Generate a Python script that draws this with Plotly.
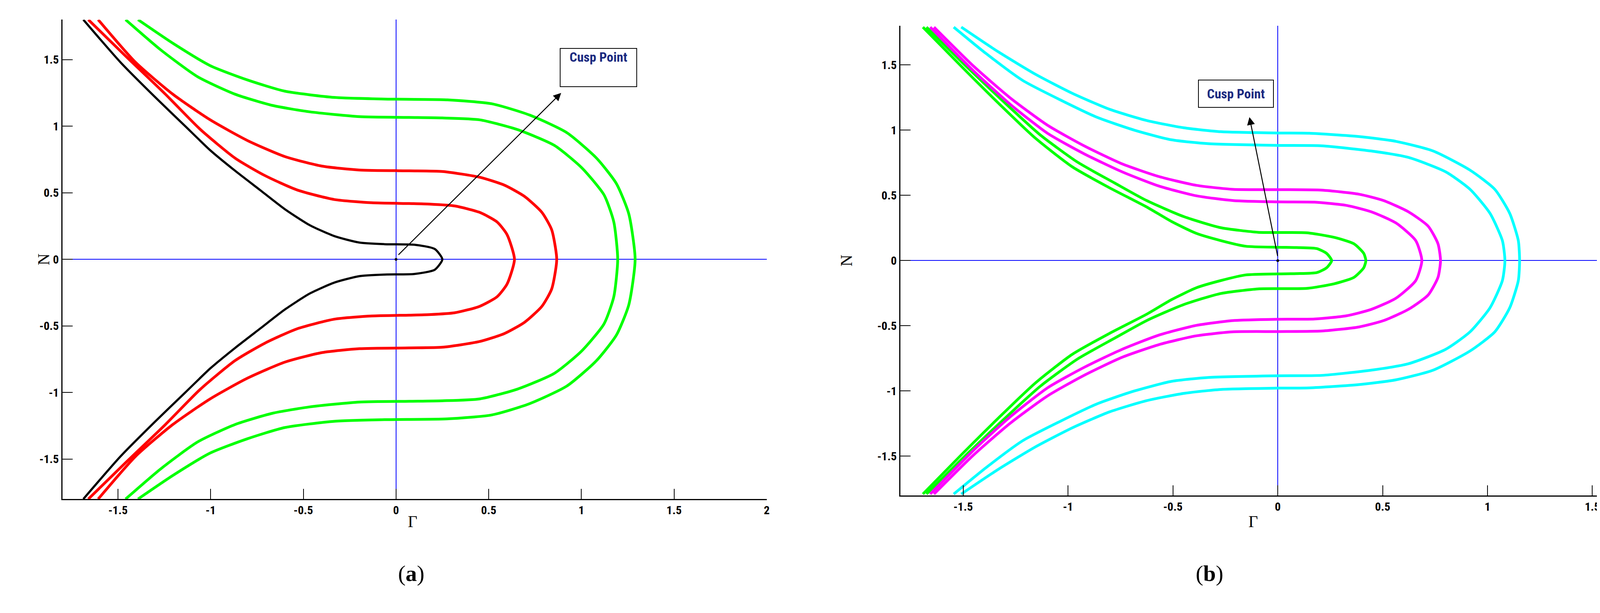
import plotly.graph_objects as go

# ---- Panel (a): upper-half points (Gamma, N) from top-left end to tip; lower half is the mirror image
a_black_G = [-1.687, -1.486, -1.298, -1.137, -1.003, -0.868, -0.734, -0.600, -0.466, -0.332, -0.197, -0.063, 0.098, 0.209, 0.25]
a_black_N = [1.80, 1.479, 1.216, 1.000, 0.820, 0.665, 0.521, 0.377, 0.257, 0.174, 0.126, 0.114, 0.110, 0.078, 0.0]
a_red1_G = [-1.66, -1.459, -1.244, -1.056, -0.868, -0.707, -0.533, -0.332, -0.130, 0.071, 0.18, 0.317, 0.451, 0.545, 0.599, 0.639]
a_red1_N = [1.80, 1.527, 1.240, 0.976, 0.760, 0.629, 0.521, 0.449, 0.425, 0.419, 0.415, 0.401, 0.353, 0.281, 0.186, 0.0]
a_red2_G = [-1.607, -1.405, -1.204, -1.003, -0.801, -0.600, -0.399, -0.197, 0.071, 0.25, 0.451, 0.585, 0.693, 0.787, 0.84, 0.867]
a_red2_N = [1.80, 1.479, 1.240, 1.048, 0.892, 0.772, 0.700, 0.671, 0.665, 0.660, 0.617, 0.557, 0.473, 0.353, 0.222, 0.0]
a_grn1_G = [-1.459, -1.271, -1.070, -0.868, -0.667, -0.466, -0.197, 0.071, 0.25, 0.451, 0.652, 0.854, 1.001, 1.122, 1.175, 1.196]
a_grn1_N = [1.80, 1.575, 1.371, 1.240, 1.156, 1.108, 1.072, 1.066, 1.062, 1.048, 0.976, 0.856, 0.689, 0.485, 0.281, 0.0]
a_grn2_G = [-1.392, -1.204, -1.003, -0.801, -0.600, -0.332, -0.063, 0.277, 0.518, 0.720, 0.921, 1.082, 1.189, 1.256, 1.29]
a_grn2_N = [1.80, 1.623, 1.455, 1.347, 1.263, 1.216, 1.204, 1.198, 1.168, 1.084, 0.952, 0.760, 0.569, 0.341, 0.0]

# ---- Panel (b)
b_grn1_G = [-1.692, -1.509, -1.333, -1.156, -0.979, -0.802, -0.625, -0.507, -0.389, -0.271, -0.153, 0.0, 0.09, 0.186, 0.233, 0.257]
b_grn1_N = [1.79, 1.49, 1.209, 0.939, 0.718, 0.558, 0.411, 0.300, 0.209, 0.153, 0.110, 0.102, 0.100, 0.092, 0.055, 0.0]
b_grn2_G = [-1.675, -1.486, -1.309, -1.132, -0.955, -0.778, -0.625, -0.448, -0.271, -0.094, 0.0, 0.14, 0.269, 0.363, 0.41, 0.42]
b_grn2_N = [1.79, 1.49, 1.221, 0.963, 0.755, 0.595, 0.460, 0.337, 0.252, 0.217, 0.215, 0.213, 0.178, 0.129, 0.055, 0.0]
b_mag1_G = [-1.657, -1.450, -1.274, -1.097, -0.920, -0.743, -0.566, -0.389, -0.212, 0.0, 0.175, 0.328, 0.446, 0.564, 0.658, 0.687]
b_mag1_N = [1.79, 1.454, 1.196, 0.975, 0.816, 0.681, 0.571, 0.497, 0.460, 0.450, 0.448, 0.423, 0.374, 0.288, 0.153, 0.0]
b_mag2_G = [-1.639, -1.450, -1.274, -1.097, -0.920, -0.743, -0.566, -0.389, -0.212, 0.0, 0.21, 0.387, 0.505, 0.623, 0.717, 0.764, 0.776]
b_mag2_N = [1.79, 1.49, 1.245, 1.037, 0.877, 0.742, 0.644, 0.577, 0.546, 0.544, 0.540, 0.509, 0.460, 0.374, 0.264, 0.129, 0.0]
b_cyn1_G = [-1.545, -1.392, -1.215, -1.038, -0.861, -0.684, -0.507, -0.330, 0.0, 0.21, 0.446, 0.623, 0.800, 0.917, 1.012, 1.071, 1.083]
b_cyn1_N = [1.79, 1.589, 1.380, 1.233, 1.098, 1.000, 0.926, 0.896, 0.883, 0.880, 0.840, 0.791, 0.681, 0.546, 0.362, 0.153, 0.0]
b_cyn2_G = [-1.509, -1.333, -1.156, -0.979, -0.802, -0.625, -0.448, -0.271, 0.0, 0.15, 0.387, 0.564, 0.741, 0.917, 1.035, 1.106, 1.147, 1.153]
b_cyn2_N = [1.79, 1.601, 1.429, 1.282, 1.160, 1.074, 1.018, 0.988, 0.978, 0.976, 0.951, 0.914, 0.840, 0.693, 0.546, 0.362, 0.153, 0.0]

a_xticks = [-1.5, -1, -0.5, 0, 0.5, 1, 1.5, 2]
b_xticks = [-1.5, -1, -0.5, 0, 0.5, 1, 1.5]
yticks = [-1.5, -1, -0.5, 0, 0.5, 1, 1.5]

fig = go.Figure()

def curve(G, N, color, width, xa, ya):
    xs = list(G) + list(reversed(G[:-1]))
    ys = list(N) + [-v for v in reversed(N[:-1])]
    fig.add_trace(go.Scatter(x=xs, y=ys, mode="lines",
                             line=dict(color=color, width=width, shape="spline", smoothing=0.6),
                             xaxis=xa, yaxis=ya, showlegend=False, hoverinfo="skip"))

for G, N, c, w in [(a_black_G, a_black_N, "black", 5.5), (a_red1_G, a_red1_N, "#ff0000", 7),
                   (a_red2_G, a_red2_N, "#ff0000", 7), (a_grn1_G, a_grn1_N, "#00ff00", 7),
                   (a_grn2_G, a_grn2_N, "#00ff00", 7)]:
    curve(G, N, c, w, "x", "y")
for G, N, c in [(b_grn1_G, b_grn1_N, "#00ff00"), (b_grn2_G, b_grn2_N, "#00ff00"),
                (b_mag1_G, b_mag1_N, "#ff00ff"), (b_mag2_G, b_mag2_N, "#ff00ff"),
                (b_cyn1_G, b_cyn1_N, "#00ffff"), (b_cyn2_G, b_cyn2_N, "#00ffff")]:
    curve(G, N, c, 7, "x2", "y2")

for xa, ya in [("x", "y"), ("x2", "y2")]:
    fig.add_trace(go.Scatter(x=[0], y=[0], mode="markers", marker=dict(color="black", size=7),
                             xaxis=xa, yaxis=ya, showlegend=False, hoverinfo="skip"))

tickfont = dict(family="Liberation Sans Narrow, Roboto Condensed, Liberation Sans", size=30,
                color="black", weight="bold")
axcommon = dict(showgrid=False, zeroline=True, zerolinecolor="#0000ff", zerolinewidth=1.5,
                showline=True, linecolor="black", linewidth=3, ticks="inside", ticklen=26,
                tickwidth=1.5, tickcolor="black", tickfont=tickfont, mirror=False)
fig.update_layout(
    width=4176, height=1570, paper_bgcolor="white", plot_bgcolor="white",
    margin=dict(l=0, r=0, t=0, b=0),
    xaxis=dict(domain=[0.0364, 0.469], range=[-1.8, 2.0], tickvals=a_xticks,
               ticktext=[f"{v:g}" for v in a_xticks], anchor="y", **axcommon),
    yaxis=dict(domain=[0.191, 0.973], range=[-1.8, 1.8], tickvals=yticks,
               ticktext=[f"{v:g}" for v in yticks], anchor="x", **axcommon),
    xaxis2=dict(domain=[0.551, 0.989], range=[-1.8, 1.6], tickvals=b_xticks,
                ticktext=[f"{v:g}" for v in b_xticks], anchor="y2", **axcommon),
    yaxis2=dict(domain=[0.197, 0.963], range=[-1.8, 1.8], tickvals=yticks,
                ticktext=[f"{v:g}" for v in yticks], anchor="x2", **axcommon),
)

lab = dict(family="Liberation Serif", size=42, color="black")
capfont = dict(family="Liberation Serif", size=58, color="black")
boxfont = dict(family="Liberation Sans Narrow, Roboto Condensed, Liberation Sans", size=34,
               color="#1a2a80")
anns = [
    dict(text="Γ", xref="paper", yref="paper", x=0.248, y=0.138, showarrow=False, font=lab),
    dict(text="Γ", xref="paper", yref="paper", x=0.771, y=0.138, showarrow=False, font=lab),
    dict(text="N", xref="paper", yref="y", x=0.019, y=0, showarrow=False, textangle=-90, font=lab),
    dict(text="N", xref="paper", yref="y2", x=0.518, y=0, showarrow=False, textangle=-90, font=lab),
    dict(text="(<b>a</b>)", xref="paper", yref="paper", x=0.242, y=0.048, showarrow=False, font=capfont),
    dict(text="(<b>b</b>)", xref="paper", yref="paper", x=0.750, y=0.048, showarrow=False, font=capfont),
    dict(x=0.891, y=1.25, ax=0.01, ay=0.03, xref="x", yref="y", axref="x", ayref="y", text="",
         showarrow=True, arrowhead=2, arrowsize=1.6, arrowwidth=2.5, arrowcolor="black"),
    dict(x=-0.135, y=1.10, ax=0.0, ay=0.03, xref="x2", yref="y2", axref="x2", ayref="y2", text="",
         showarrow=True, arrowhead=2, arrowsize=1.6, arrowwidth=2.5, arrowcolor="black"),
    dict(x=1.093, y=1.44, xref="x", yref="y", text="<b>Cusp Point</b>", showarrow=False,
         font=boxfont, bordercolor="black", borderwidth=2, bgcolor="white", width=192, height=94,
         valign="top"),
    dict(x=-0.20, y=1.28, xref="x2", yref="y2", text="<b>Cusp Point</b>", showarrow=False,
         font=boxfont, bordercolor="black", borderwidth=2, bgcolor="white", width=188, height=66,
         valign="middle"),
]
fig.update_layout(annotations=anns)
fig.write_html("out.html")
